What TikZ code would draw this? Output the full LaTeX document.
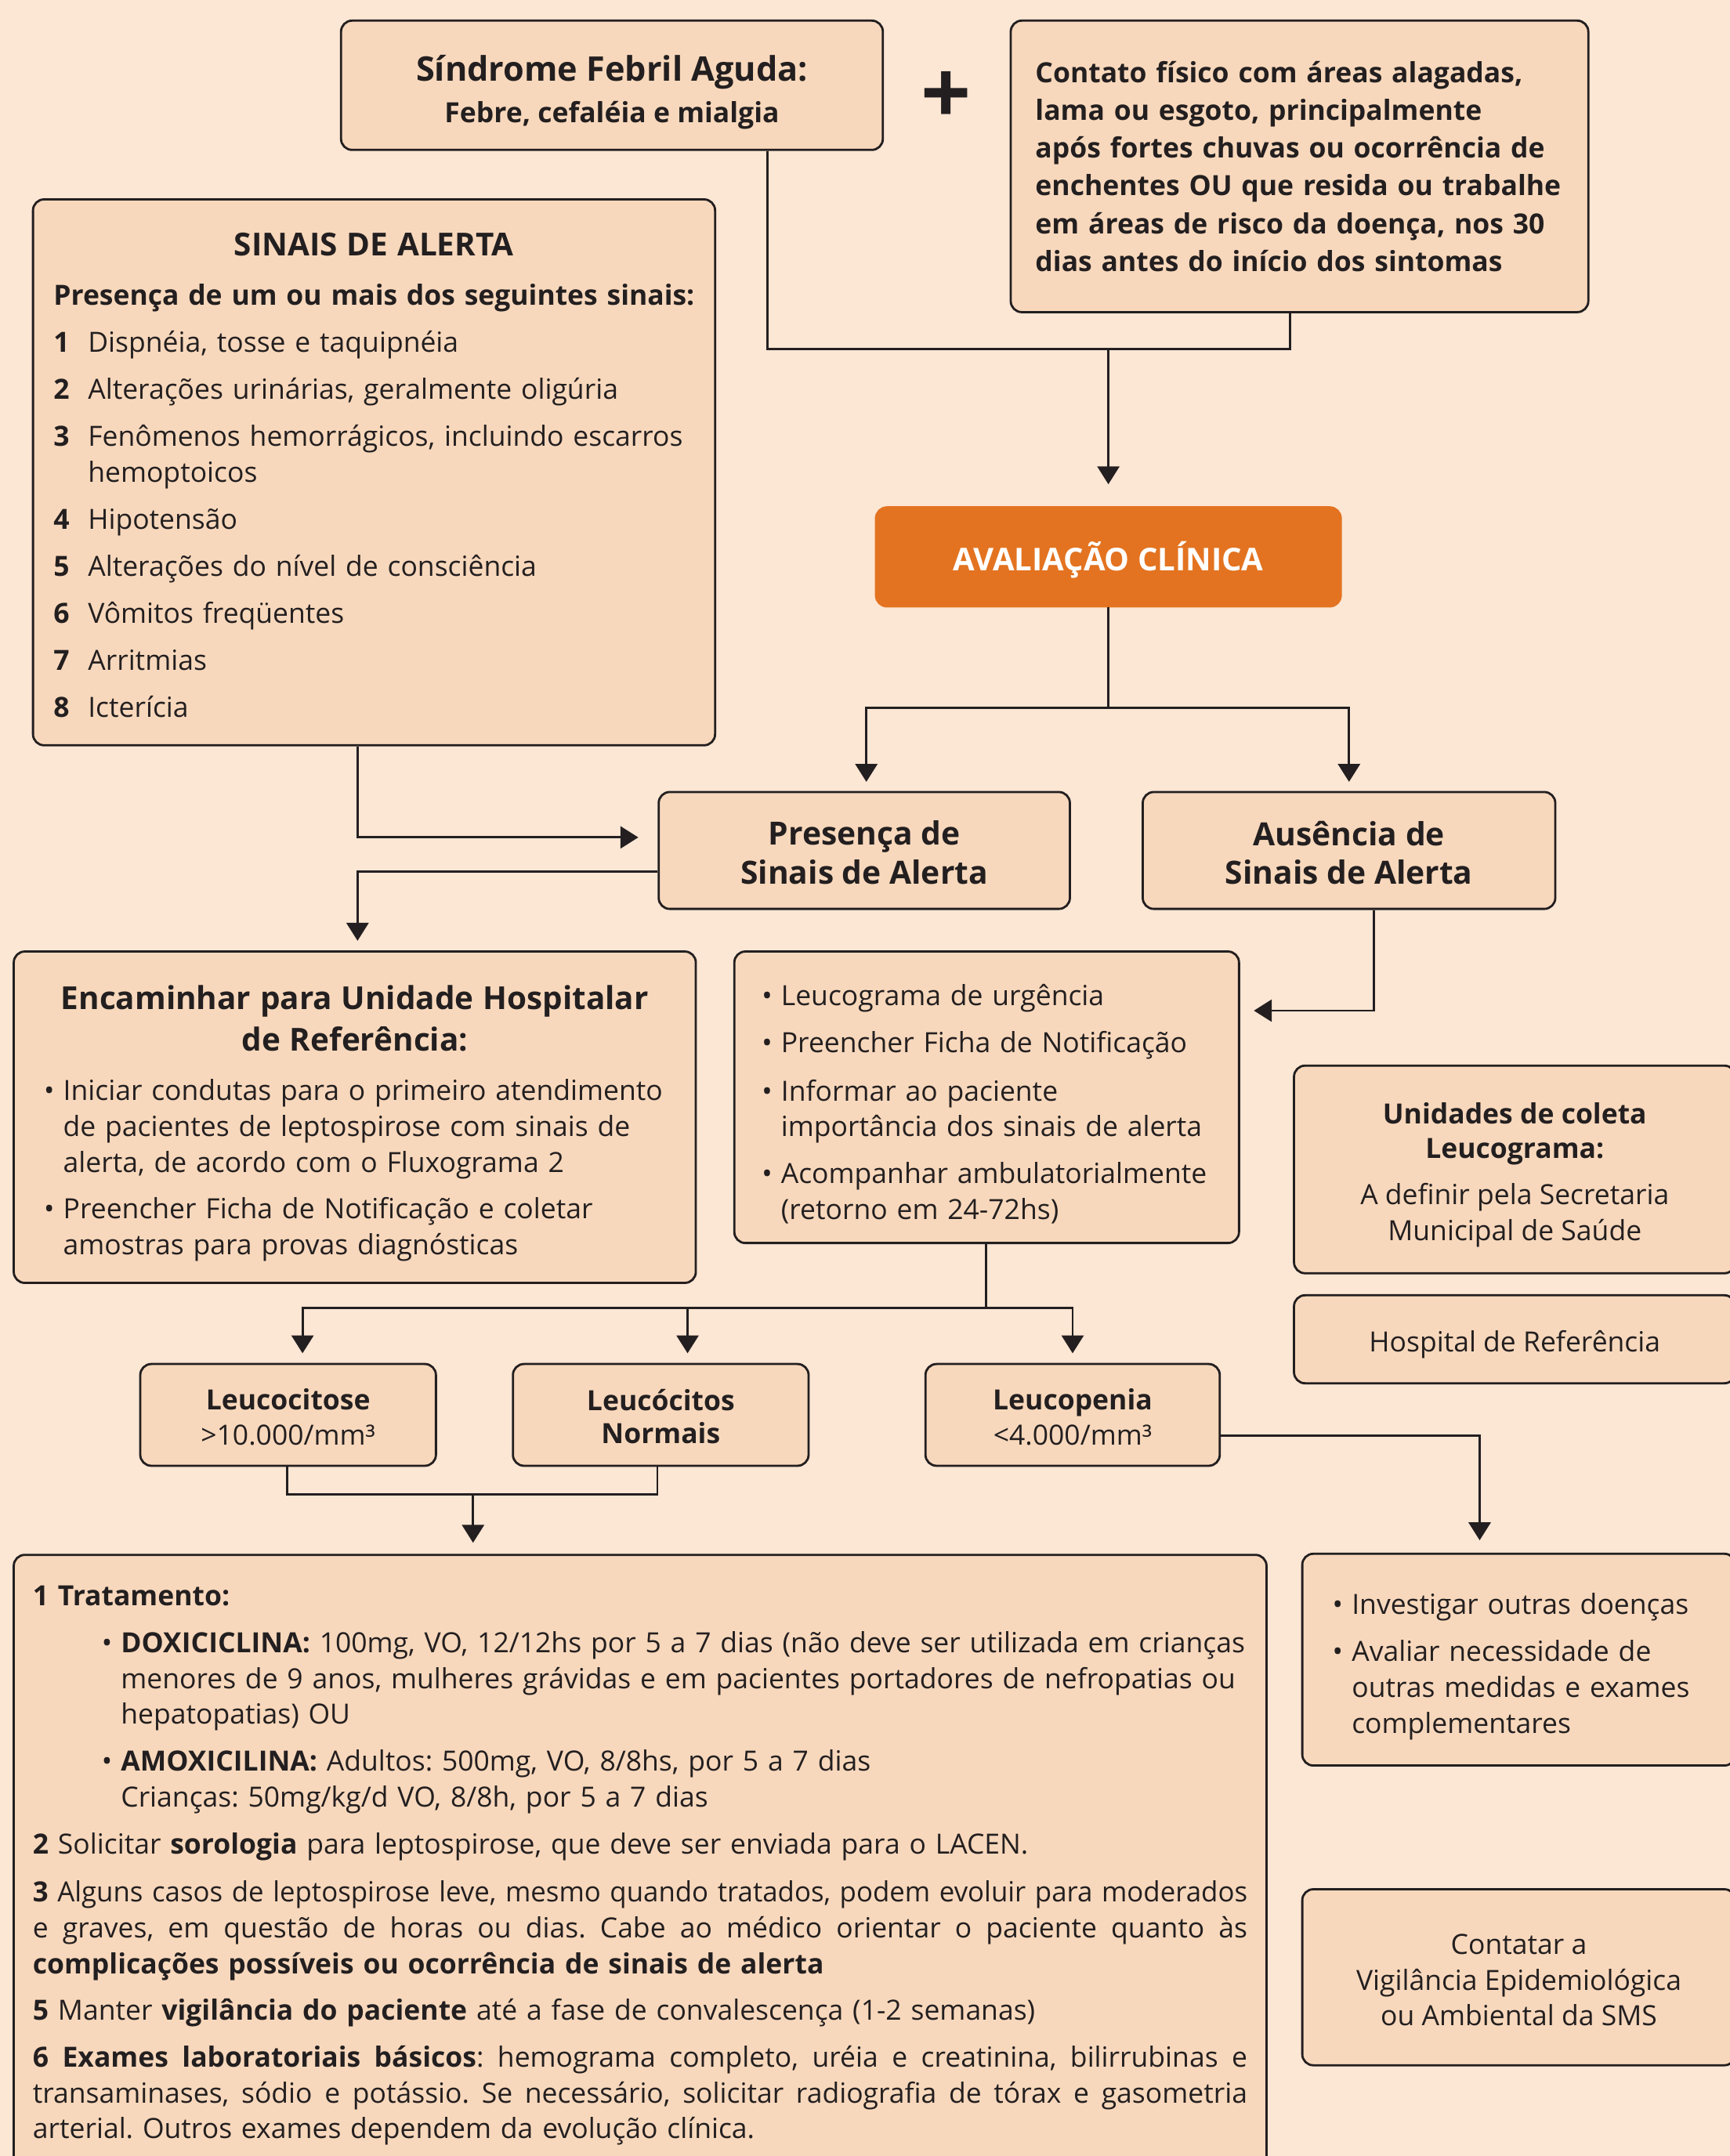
\documentclass[tikz,border=0pt]{standalone}
\usepackage{fontspec}
\setmainfont{Open Sans}
\usepackage{graphicx}
\usetikzlibrary{arrows.meta}
\setlength{\parindent}{0pt}
\AtBeginDocument{\frenchspacing}
\definecolor{bgc}{RGB}{252,230,212}
\definecolor{boxc}{RGB}{248,216,188}
\definecolor{orng}{RGB}{227,115,32}
\definecolor{ink}{RGB}{35,31,32}
\newlength\flw
\newcommand\fl[1]{\settowidth\flw{#1}\ifdim\flw>\hsize\resizebox{\hsize}{\height}{#1}\else\mbox{#1}\fi}
\newcommand\cl[1]{\settowidth\flw{#1}\ifdim\flw>\hsize\resizebox{\hsize}{\height}{#1}\else\makebox[\hsize]{#1}\fi}
\newcommand\jl[1]{\settowidth\flw{#1}\ifdim\flw>\hsize\resizebox{\hsize}{\height}{#1}\else\makebox[\hsize][s]{\spaceskip=\fontdimen2\font plus 1fil\relax #1}\fi}
\newcommand\up[2]{\raisebox{0pt}[\dimexpr\height+#1\relax][\depth]{#2}}
\newcommand\bul{\makebox[7pt][l]{•}}
\newcommand\nmb[1]{\makebox[12.5pt][l]{\textbf{#1}}}
\newcommand\bx[7]{\node[box,minimum width={(#4-#2)*0.017551cm},minimum height={(#5-#3)*0.017551cm},#6] (#1) at ({(#2+#4)/2},{(#3+#5)/2}) {#7};}
\tikzset{
  box/.style={draw=ink, line width=0.8pt, fill=boxc, rounded corners=4pt, inner sep=0pt, text=ink, font=\fontsize{10.1}{13}\selectfont},
  conn/.style={draw=ink, line width=0.8pt},
  arr/.style={conn, -{Triangle[length=6.5pt,width=8pt]}}
}
\begin{document}
\begin{tikzpicture}[x=0.017551cm,y=-0.017551cm]
\fill[bgc] (0,0) rectangle (1258,1568);
\useasboundingbox (0,0) rectangle (1258,1568);

% top row
\bx{s1}{248}{15}{642}{109}{align=center}{\up{5pt}{\fontsize{12.3}{15}\selectfont\bfseries Síndrome Febril Aguda:}\\[2pt]\textbf{Febre, cefaléia e mialgia}}
\node[font=\fontsize{32}{32}\selectfont\bfseries, text=ink, inner sep=0pt] (plus) at (688,71) {+};
\bx{c1}{735}{15}{1155}{227}{text width=191.8pt, align=left, font=\fontsize{10.1}{13.7}\selectfont\bfseries}{%
\fl{Contato físico com áreas alagadas,}\\
\fl{lama ou esgoto, principalmente}\\
\fl{após fortes chuvas ou ocorrência de}\\
\fl{enchentes OU que resida ou trabalhe}\\
\fl{em áreas de risco da doença, nos 30}\\
\fl{dias antes do início dos sintomas}}

% sinais de alerta
\bx{sa}{24}{145}{520}{542}{text width=232.7pt, align=left}{%
\cl{\up{2pt}{\fontsize{11.5}{13}\selectfont\bfseries SINAIS DE ALERTA}}\\[5pt]
\cl{\bfseries Presença de um ou mais dos seguintes sinais:}\\[4pt]
\fl{\nmb{1}Dispnéia, tosse e taquipnéia}\\[4.1pt]
\fl{\nmb{2}Alterações urinárias, geralmente oligúria}\\[4.1pt]
\fl{\nmb{3}Fenômenos hemorrágicos, incluindo escarros}\\
\fl{\hspace*{12.5pt}hemoptoicos}\\[4.1pt]
\fl{\nmb{4}Hipotensão}\\[4.1pt]
\fl{\nmb{5}Alterações do nível de consciência}\\[4.1pt]
\fl{\nmb{6}Vômitos freqüentes}\\[4.1pt]
\fl{\nmb{7}Arritmias}\\[4.1pt]
\fl{\nmb{8}Icterícia}}

% avaliacao
\bx{av}{637}{369}{975}{441}{fill=orng, draw=orng, text=white, font=\fontsize{11.4}{14}\selectfont\bfseries}{\up{2pt}{AVALIAÇÃO CLÍNICA}}

\bx{pr}{479}{576}{778}{661}{align=center, font=\fontsize{11.6}{14}\selectfont\bfseries}{\up{1.5pt}{Presença de}\\Sinais de Alerta}
\bx{au}{831}{576}{1131}{661}{align=center, font=\fontsize{11.6}{14}\selectfont\bfseries}{\up{1.5pt}{Ausência de}\\Sinais de Alerta}

\bx{en}{10}{692}{506}{933}{text width=225.7pt, align=left}{%
\cl{\up{4.5pt}{\fontsize{11.5}{13}\selectfont\bfseries Encaminhar para Unidade Hospitalar}}\\[2pt]
\cl{\fontsize{11.5}{13}\selectfont\bfseries de Referência:}\\[5pt]
\fl{\bul Iniciar condutas para o primeiro atendimento}\\
\fl{\hspace*{7pt}de pacientes de leptospirose com sinais de}\\
\fl{\hspace*{7pt}alerta, de acordo com o Fluxograma 2}\\[4pt]
\fl{\bul Preencher Ficha de Notificação e coletar}\\
\fl{\hspace*{7pt}amostras para provas diagnósticas}}

\bx{lg}{534}{692}{901}{904}{text width=163.3pt, align=left}{%
\fl{\up{5pt}{\bul Leucograma de urgência}}\\[4pt]
\fl{\bul Preencher Ficha de Notificação}\\[4.5pt]
\fl{\bul Informar ao paciente}\\
\fl{\hspace*{7pt}importância dos sinais de alerta}\\[4pt]
\fl{\bul Acompanhar ambulatorialmente}\\
\fl{\hspace*{7pt}(retorno em 24-72hs)}}

\bx{un}{941}{775}{1262}{926}{align=center}{\up{4pt}{\textbf{Unidades de coleta}}\\[-0.5pt]\textbf{Leucograma:}\\[4pt]A definir pela Secretaria\\Municipal de Saúde}
\bx{ho}{941}{942}{1262}{1006}{}{\up{4pt}{Hospital de Referência}}

\bx{lc}{102}{992}{317}{1066}{align=center}{\up{1.5pt}{\textbf{Leucocitose}}\\>10.000/mm³}
\bx{ln}{373}{992}{588}{1066}{align=center, font=\fontsize{10.1}{12}\selectfont\bfseries}{\up{1pt}{Leucócitos}\\Normais}
\bx{lp}{673}{992}{887}{1066}{align=center}{\up{1.5pt}{\textbf{Leucopenia}}\\<4.000/mm³}

\node[box, anchor=north, minimum width={911*0.017551cm}, text width=441pt, align=left, inner ysep=11.3pt] (tr) at (465.5,1130) {%
\fl{\textbf{1 Tratamento:}}\\[4pt]
\fl{\hspace*{25pt}\bul\textbf{DOXICICLINA:} 100mg, VO, 12/12hs por 5 a 7 dias (não deve ser utilizada em crianças}\\
\fl{\hspace*{32pt}menores de 9 anos, mulheres grávidas e em pacientes portadores de nefropatias ou}\\
\fl{\hspace*{32pt}hepatopatias) OU}\\[4pt]
\fl{\hspace*{25pt}\bul\textbf{AMOXICILINA:} Adultos: 500mg, VO, 8/8hs, por 5 a 7 dias}\\
\fl{\hspace*{32pt}Crianças: 50mg/kg/d VO, 8/8h, por 5 a 7 dias}\\[4pt]
\fl{\textbf{2} Solicitar \textbf{sorologia} para leptospirose, que deve ser enviada para o LACEN.}\\[4.5pt]
\jl{\textbf{3} Alguns casos de leptospirose leve, mesmo quando tratados, podem evoluir para moderados}\\
\jl{e graves, em questão de horas ou dias. Cabe ao médico orientar o paciente quanto às}\\
\fl{\textbf{complicações possíveis ou ocorrência de sinais de alerta}}\\[4pt]
\fl{\textbf{5} Manter \textbf{vigilância do paciente} até a fase de convalescença (1-2 semanas)}\\[4pt]
\jl{\textbf{6 Exames laboratoriais básicos}: hemograma completo, uréia e creatinina, bilirrubinas e}\\
\jl{transaminases, sódio e potássio. Se necessário, solicitar radiografia de tórax e gasometria}\\
\fl{arterial. Outros exames dependem da evolução clínica.}};

\bx{iv}{947}{1130}{1262}{1284}{text width=135.3pt, align=left}{%
\fl{\up{5pt}{\bul Investigar outras doenças}}\\[4pt]
\fl{\bul Avaliar necessidade de}\\
\fl{\hspace*{7pt}outras medidas e exames}\\
\fl{\hspace*{7pt}complementares}}
\bx{ct}{947}{1374}{1262}{1502}{align=center}{\up{2pt}{Contatar a}\\Vigilância Epidemiológica\\ou Ambiental da SMS}

% connectors
\coordinate (j1) at (806,254);
\draw[conn] (558,0 |- s1.south) |- (j1) -| (938,0 |- c1.south);
\draw[arr, shorten >=8pt] (j1) -- (av.north);
\coordinate (j2) at (806,515);
\draw[conn] (av.south) -- (j2);
\draw[arr, shorten >=3.3pt] (j2) -| (630,0 |- pr.north);
\draw[arr, shorten >=3.3pt] (j2) -| (au.north);
\draw[arr, shorten >=7pt] (260,0 |- sa.south) |- (pr.west |- 0,609);
\draw[arr, shorten >=3.5pt] (pr.west |- 0,634) -| (260,0 |- en.north);
\draw[arr, shorten >=5pt] (999,0 |- au.south) |- (lg.east |- 0,735);
\coordinate (j3) at (717,951);
\draw[conn] (717,0 |- lg.south) -- (j3);
\draw[arr, shorten >=3.5pt] (j3) -| (220,0 |- lc.north);
\draw[arr, shorten >=3.5pt] (j3) -| (500,0 |- ln.north);
\draw[arr, shorten >=3.5pt] (j3) -| (lp.north);
\coordinate (j4) at (344,1087);
\draw[conn] (209,0 |- lc.south) |- (478,1087) -- (478,0 |- ln.south);
\draw[arr, shorten >=4pt] (j4) -- (344,0 |- tr.north);
\draw[arr, shorten >=4.5pt] (lp.east |- 0,1044) -| (1076,0 |- iv.north);
\end{tikzpicture}
\end{document}
